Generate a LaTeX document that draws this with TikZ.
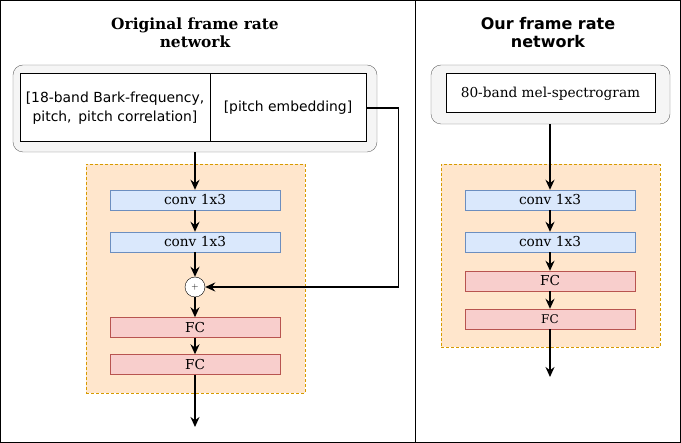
\documentclass[tikz,border=0pt]{standalone}
\usepackage{fontspec}
\newfontfamily\dvsans{DejaVu Sans}
\newfontfamily\dvserif{DejaVu Serif}
\usepackage{tikz}
\usetikzlibrary{arrows.meta, positioning, calc}
\definecolor{convfill}{HTML}{DAE8FC}
\definecolor{convdraw}{HTML}{6C8EBF}
\definecolor{fcfill}{HTML}{F8CECC}
\definecolor{fcdraw}{HTML}{B85450}
\definecolor{blockfill}{HTML}{FFE6CC}
\definecolor{blockdraw}{HTML}{D79B00}
\definecolor{infill}{HTML}{F5F5F5}
\definecolor{indraw}{HTML}{666666}
\tikzset{
  conv/.style={rectangle,draw=convdraw,fill=convfill,minimum width=170pt,
    minimum height=20pt,inner sep=0pt,font=\dvserif\fontsize{13.7}{16}\selectfont},
  fc/.style={conv,draw=fcdraw,fill=fcfill},
  block/.style={rectangle,draw=blockdraw,fill=blockfill,dash pattern=on 3pt off 2pt,inner sep=0pt},
  inbox/.style={rectangle,rounded corners=10pt,draw=indraw,fill=infill,inner sep=0pt},
  feat/.style={rectangle,draw=black,line width=1pt,fill=white,align=center,inner sep=0pt},
  plus/.style={circle,draw=black,fill=white,minimum size=20pt,inner sep=0pt,font=\small},
  ttl/.style={align=center},
  ar/.style={-{Stealth[length=10pt,width=9pt]},line width=1.5pt}
}
\begin{document}
\begin{tikzpicture}[x=1pt,y=-1pt]
\useasboundingbox (0,0) rectangle (681,443);
\draw[line width=1pt] (0.5,0.5) rectangle (680.5,442.5);
\draw[line width=1pt] (415,0.5) -- (415,442.5);
% original network
\node[ttl,font=\dvserif\bfseries\fontsize{15.4}{18}\selectfont] (ltitle) at (195,33) {Original frame rate\\network};
\node[inbox,minimum width=364pt,minimum height=87pt] (lin) at (195,108.5) {};
\node[feat,minimum width=190pt,minimum height=68pt,font=\dvsans\fontsize{13.9}{19}\selectfont] (lfeat) at (115,108) {[18-band Bark-frequency,\\pitch,\, pitch correlation]};
\node[feat,minimum width=156pt,minimum height=68pt,font=\dvsans\fontsize{13.9}{19}\selectfont] (lpitch) at (288,108) {[pitch embedding]};
\node[block,minimum width=219pt,minimum height=229pt] (lblock) at (195.5,278.5) {};
\node[conv] (lconv1) at (195,200) {conv 1x3};
\node[conv] (lconv2) at (195,242) {conv 1x3};
\node[plus] (lplus) at (195,287) {+};
\node[fc] (lfc1) at (195,327.5) {FC};
\node[fc] (lfc2) at (195,364.5) {FC};
\coordinate (lout) at (195,427);
\draw[ar] (lin.south -| lconv1) -- (lconv1);
\draw[ar] (lconv1) -- (lconv2);
\draw[ar] (lconv2) -- (lplus);
\draw[ar] (lplus) -- (lfc1);
\draw[ar] (lfc1) -- (lfc2);
\draw[ar] (lfc2) -- (lout);
\draw[ar] (lpitch.east) -- ++(32,0) |- (lplus.east);
% our network
\node[ttl,font=\dvsans\bfseries\fontsize{16}{18}\selectfont] (rtitle) at (548,33) {Our frame rate\\network};
\node[inbox,minimum width=239pt,minimum height=59pt] (rin) at (550.5,94.5) {};
\node[feat,minimum width=209pt,minimum height=39pt,font=\dvserif\fontsize{13.7}{16}\selectfont] (rmel) at (550.5,93.5) {80-band mel-spectrogram};
\node[block,minimum width=219pt,minimum height=183pt] (rblock) at (550.5,255.5) {};
\node[conv] (rconv1) at (550,200) {conv 1x3};
\node[conv] (rconv2) at (550,242) {conv 1x3};
\node[fc] (rfc1) at (550,281) {FC};
\node[fc,font=\dvserif\fontsize{12}{14}\selectfont] (rfc2) at (550,319) {FC};
\coordinate (rout) at (550,377);
\draw[ar] (rin.south -| rconv1) -- (rconv1);
\draw[ar] (rconv1) -- (rconv2);
\draw[ar] (rconv2) -- (rfc1);
\draw[ar] (rfc1) -- (rfc2);
\draw[ar] (rfc2) -- (rout);
\end{tikzpicture}
\end{document}
